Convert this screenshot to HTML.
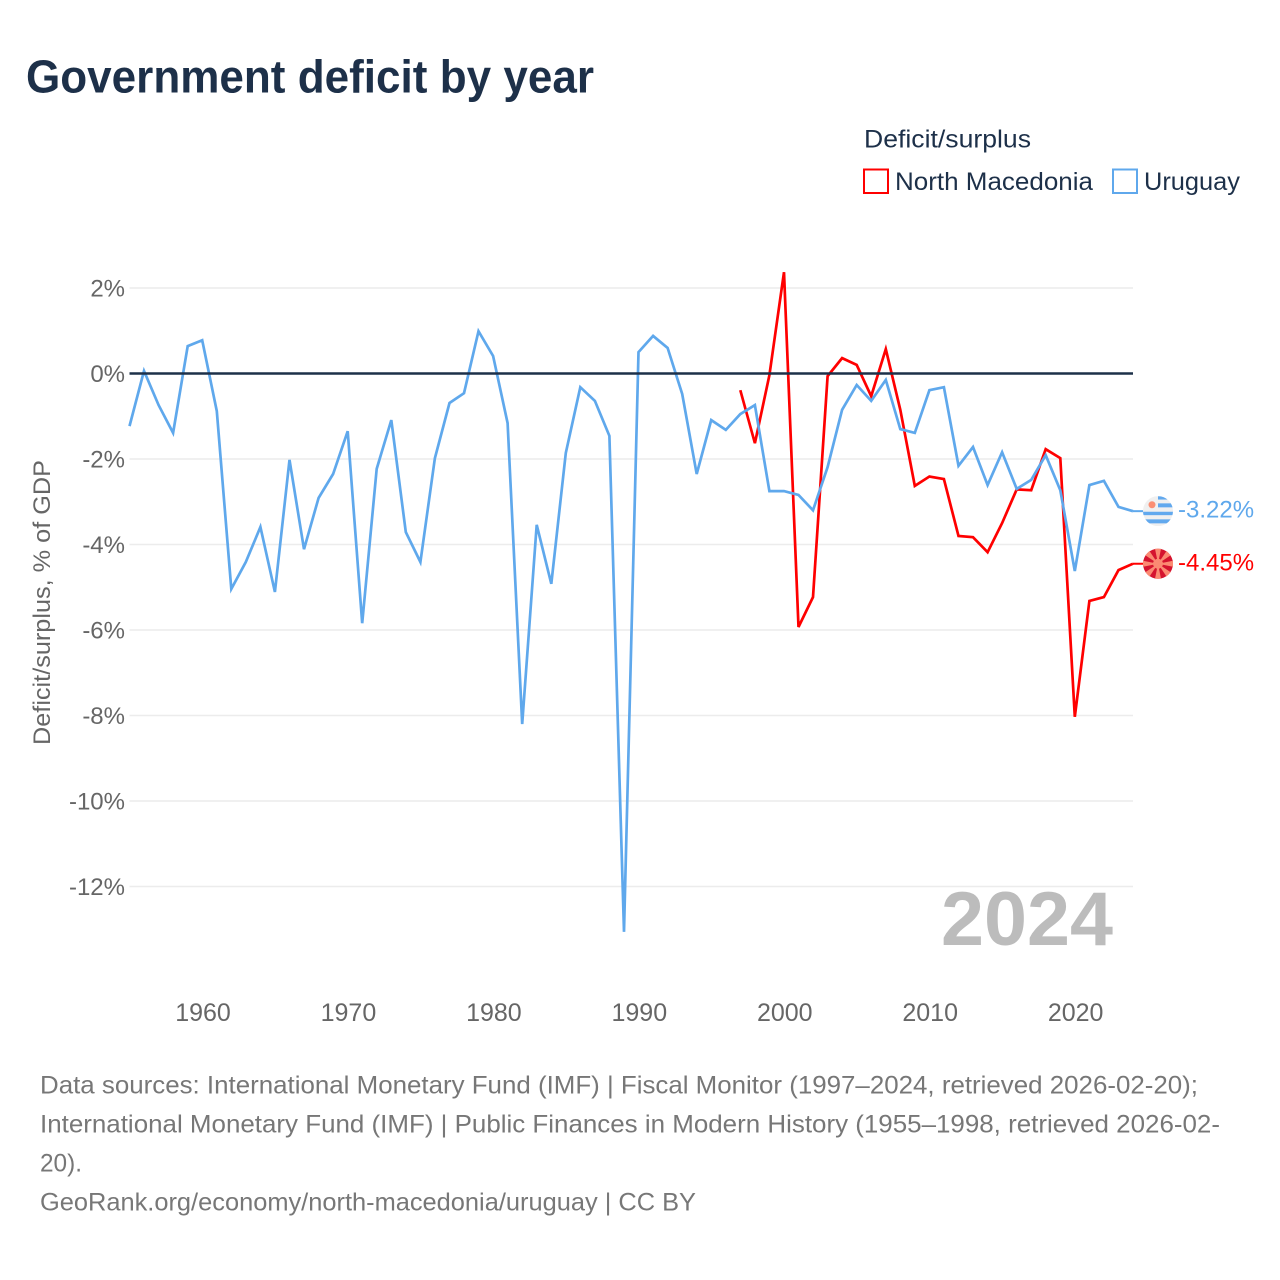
<!DOCTYPE html>
<html lang="en">
<head>
<meta charset="utf-8">
<title>Government deficit by year</title>
<style>
html,body{margin:0;padding:0;background:#fff;}
svg{display:block;font-family:"Liberation Sans",sans-serif;}
</style>
</head>
<body>
<svg id="chart" width="1280" height="1280" viewBox="0 0 1280 1280" xmlns="http://www.w3.org/2000/svg">
  <rect width="1280" height="1280" fill="#fff"/>
  <text x="26" y="92.5" font-size="46" font-weight="700" fill="#1d3049" textLength="568" lengthAdjust="spacingAndGlyphs">Government deficit by year</text>

  <g>
    <text x="864" y="147.5" font-size="25" fill="#1d3049" textLength="167" lengthAdjust="spacingAndGlyphs">Deficit/surplus</text>
    <rect x="864" y="169.5" width="24" height="23.5" fill="none" stroke="#ff0000" stroke-width="2"/>
    <text x="895" y="190" font-size="25" fill="#1d3049" textLength="198" lengthAdjust="spacingAndGlyphs">North Macedonia</text>
    <rect x="1113" y="169.5" width="24" height="23.5" fill="none" stroke="#5fa8ec" stroke-width="2"/>
    <text x="1144" y="190" font-size="25" fill="#1d3049" textLength="96" lengthAdjust="spacingAndGlyphs">Uruguay</text>
  </g>

  <g id="grid"></g>
  <g id="yticks"></g>
  <g id="xticks"></g>
  <text transform="translate(50,745) rotate(-90)" font-size="24" fill="#666" textLength="285" lengthAdjust="spacingAndGlyphs">Deficit/surplus, % of GDP</text>

  <text x="1113" y="945" text-anchor="end" font-size="76" font-weight="700" fill="#bcbcbc" textLength="172" lengthAdjust="spacingAndGlyphs">2024</text>

  <g id="series"></g>
  <line id="zero" x1="129.5" x2="1133" stroke="#1d3049" stroke-width="2.6"/>
  <g id="ends"></g>

  <g font-size="25" fill="#777">
    <text x="40" y="1093.5" textLength="1158" lengthAdjust="spacingAndGlyphs">Data sources: International Monetary Fund (IMF) | Fiscal Monitor (1997–2024, retrieved 2026-02-20);</text>
    <text x="40" y="1132.5" textLength="1180" lengthAdjust="spacingAndGlyphs">International Monetary Fund (IMF) | Public Finances in Modern History (1955–1998, retrieved 2026-02-</text>
    <text x="40" y="1171.5" textLength="42" lengthAdjust="spacingAndGlyphs">20).</text>
    <text x="40" y="1210.5" textLength="656" lengthAdjust="spacingAndGlyphs">GeoRank.org/economy/north-macedonia/uruguay | CC BY</text>
  </g>
</svg>
<script>
const yTickValues = [2, 0, -2, -4, -6, -8, -10, -12];
const xTickYears = [1960, 1970, 1980, 1990, 2000, 2010, 2020];
const uruguayStartYear = 1955;
const uruguayValues = [-1.23,0.06,-0.74,-1.39,0.64,0.78,-0.88,-5.04,-4.41,-3.59,-5.11,-2.02,-4.11,-2.91,-2.35,-1.35,-5.84,-2.23,-1.09,-3.71,-4.41,-1.98,-0.69,-0.46,0.99,0.41,-1.16,-8.2,-3.54,-4.92,-1.86,-0.32,-0.64,-1.46,-13.06,0.5,0.88,0.6,-0.48,-2.35,-1.09,-1.32,-0.95,-0.74,-2.75,-2.75,-2.84,-3.2,-2.19,-0.85,-0.27,-0.64,-0.15,-1.3,-1.39,-0.39,-0.32,-2.16,-1.72,-2.61,-1.84,-2.7,-2.49,-1.91,-2.73,-4.62,-2.61,-2.51,-3.12,-3.22];
const macedoniaStartYear = 1997;
const macedoniaValues = [-0.39,-1.63,-0.04,2.37,-5.93,-5.23,-0.06,0.36,0.2,-0.53,0.57,-0.85,-2.63,-2.41,-2.47,-3.8,-3.83,-4.18,-3.5,-2.71,-2.73,-1.77,-1.98,-8.03,-5.32,-5.23,-4.6,-4.45];

const NS = 'http://www.w3.org/2000/svg';
function xScale(year){ return 129.5 + (year - 1955) * (1133 - 129.5) / 69; }
function yScale(v){ return 373.5 - v * 42.75; }
function make(tag, parent, attrs){
  const el = document.createElementNS(NS, tag);
  for (const k in attrs) el.setAttribute(k, attrs[k]);
  parent.appendChild(el);
  return el;
}

const grid = document.getElementById('grid');
const yticks = document.getElementById('yticks');
const xticks = document.getElementById('xticks');
yTickValues.forEach(function(v){
  if (v !== 0) {
    const line = make('line', grid, {x1:129.5, x2:1133, y1:yScale(v), y2:yScale(v), stroke:'#ececec', 'stroke-width':1.6});
    
    
  }
  const t = make('text', yticks, {x:125, y:yScale(v)+8.5, 'text-anchor':'end', 'font-size':24, fill:'#666'});
  t.textContent = v + '%';
  
  
});
xTickYears.forEach(function(y){
  const t = make('text', xticks, {x:xScale(y)+0.8, y:1021, 'text-anchor':'middle', 'font-size':25, fill:'#666'});
  t.textContent = y;
  
  
});
document.getElementById('zero').setAttribute('y1', yScale(0));
document.getElementById('zero').setAttribute('y2', yScale(0));

function pathFor(start, vals){
  return vals.map(function(v, i){
    return (i ? 'L' : 'M') + xScale(start + i).toFixed(1) + ' ' + yScale(v).toFixed(1);
  }).join(' ');
}
const seriesGroup = document.getElementById('series');
const redLine = make('path', seriesGroup, {d:pathFor(macedoniaStartYear, macedoniaValues), fill:'none', stroke:'#ff0000', 'stroke-width':2.7});


const blueLine = make('path', seriesGroup, {d:pathFor(uruguayStartYear, uruguayValues), fill:'none', stroke:'#5fa8ec', 'stroke-width':2.7});



const ends = document.getElementById('ends');
const yU = yScale(uruguayValues[uruguayValues.length - 1]);
const yM = yScale(macedoniaValues[macedoniaValues.length - 1]);

const connU = make('line', ends, {x1:1133, x2:1143, y1:yU, y2:yU, stroke:'#5fa8ec', 'stroke-width':2});


const connM = make('line', ends, {x1:1133, x2:1143, y1:yM, y2:yM, stroke:'#ff0000', 'stroke-width':2});



/* Uruguay flag */
const flagU = make('g', ends, {transform:'translate(1158,' + yU + ')'});


const cpU = make('clipPath', flagU, {id:'clipU'});
make('circle', cpU, {r:15});
const inU = make('g', flagU, {'clip-path':'url(#clipU)'});
make('rect', inU, {x:-15, y:-15, width:30, height:30, fill:'#f0f0f0'});
make('rect', inU, {x:0, y:-15, width:15, height:3.4, fill:'#62a9ee'});
make('rect', inU, {x:0, y:-7.8, width:15, height:4, fill:'#62a9ee'});
make('rect', inU, {x:-15, y:0.6, width:30, height:3.4, fill:'#62a9ee'});
make('rect', inU, {x:-15, y:8.2, width:30, height:4, fill:'#62a9ee'});
make('circle', inU, {cx:-6, cy:-6.4, r:3.5, fill:'#fb8f74'});

/* North Macedonia flag */
const flagM = make('g', ends, {transform:'translate(1158,' + yM + ')'});


make('circle', flagM, {r:15, fill:'#d5142f'});
for (let i = 0; i < 8; i++) {
  make('path', flagM, {d:'M0 0 L-3 -15 L3 -15 Z', fill:'#fb8a72', transform:'rotate(' + (i * 45) + ')'});
}
make('circle', flagM, {r:5, fill:'#fb8a72'});

const labelU = make('text', ends, {x:1178, y:yU+6.5, 'font-size':24, fill:'#5fa8ec'});
labelU.textContent = uruguayValues[uruguayValues.length - 1].toFixed(2) + '%';


const labelM = make('text', ends, {x:1178, y:yM+7, 'font-size':24, fill:'#ff0000'});
labelM.textContent = macedoniaValues[macedoniaValues.length - 1].toFixed(2) + '%';


</script>
</body>
</html>
